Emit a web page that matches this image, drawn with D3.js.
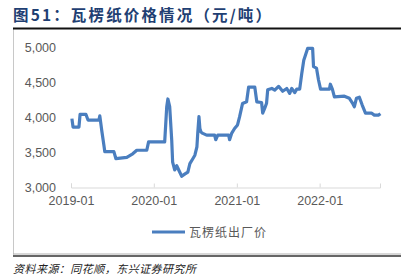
<!DOCTYPE html>
<html>
<head>
<meta charset="utf-8">
<script src="https://cdnjs.cloudflare.com/ajax/libs/d3/7.8.5/d3.min.js"></script>
<style>
  body { margin: 0; background: #fff; }
  svg { display: block; }
</style>
</head>
<body>
<div class="chart"></div>
<script>
// values (元/吨)
var dates = [
  '2019-01-05','2019-01-10','2019-02-05','2019-02-10','2019-03-08','2019-03-17','2019-05-04','2019-05-08',
  '2019-05-17','2019-05-26','2019-05-30','2019-07-09','2019-07-18','2019-09-04','2019-09-30','2019-10-18',
  '2019-12-01','2019-12-09','2020-02-18','2020-02-27','2020-03-03','2020-03-11','2020-03-20','2020-03-24',
  '2020-04-02','2020-04-11','2020-04-24','2020-05-03','2020-05-16','2020-05-30','2020-06-08','2020-06-21',
  '2020-06-30','2020-07-09','2020-07-13','2020-07-18','2020-07-22','2020-07-27','2020-08-04','2020-08-21',
  '2020-09-25','2020-09-30','2020-10-09','2020-11-26','2020-11-30','2020-12-09','2020-12-22','2021-01-04',
  '2021-01-13','2021-01-26','2021-02-13','2021-02-22','2021-03-21','2021-03-30','2021-04-20','2021-04-25',
  '2021-05-04','2021-05-12','2021-05-17','2021-06-04','2021-06-17','2021-07-04','2021-07-22','2021-08-09',
  '2021-08-22','2021-08-31','2021-09-13','2021-09-22','2021-10-05','2021-10-14','2021-10-23','2021-10-31',
  '2021-11-09','2021-12-01','2021-12-05','2021-12-18','2021-12-27','2022-01-05','2022-02-13','2022-02-17',
  '2022-02-26','2022-03-07','2022-04-20','2022-05-12','2022-05-25','2022-06-03','2022-06-12','2022-06-25',
  '2022-07-08','2022-07-22','2022-08-17','2022-08-30','2022-09-17','2022-09-26'
];
var prices = [
  3980,3860,3860,4040,4040,3960,3960,4020,
  3800,3600,3510,3510,3410,3430,3480,3530,
  3530,3650,3650,4150,4260,4150,3670,3360,
  3250,3310,3220,3160,3190,3220,3340,3410,
  3460,3580,3790,4010,3840,3790,3770,3745,
  3745,3680,3745,3745,3680,3770,3840,3890,
  4005,4195,4220,4430,4430,4220,4210,4060,
  4130,4200,4390,4410,4385,4440,4370,4410,
  4340,4410,4350,4400,4400,4620,4810,4890,
  4980,4980,4720,4700,4530,4400,4400,4470,
  4400,4290,4300,4270,4205,4150,4270,4285,
  4170,4060,4060,4030,4030,4050
];
var yTicks = [3000, 3500, 4000, 4500, 5000];
var xTicks = ['2019-01-01', '2020-01-01', '2021-01-01', '2022-01-01'];
var seriesName = '瓦楞纸出厂价';
var title = '图51：瓦楞纸价格情况（元/吨）';
var source = '资料来源：同花顺，东兴证券研究所';

var W = 411, H = 279;
var parse = d3.timeParse('%Y-%m-%d');
var data = dates.map((d, i) => ({ date: parse(d), value: prices[i] }));

var svg = d3.select('.chart')
  .append('svg')
  .attr('width', W)
  .attr('height', H);

// title + rule
svg.append('text')
  .attr('x', 13).attr('y', 20.5)
  .attr('textLength', 258).attr('lengthAdjust', 'spacing')
  .style('font-family', '"Noto Sans CJK SC", sans-serif')
  .style('font-weight', 'bold')
  .style('font-size', '15.5px')
  .style('fill', '#1f3f73')
  .text(title);

// chart frame (left + bottom, light gray)
svg.append('line').attr('x1', 13.5).attr('x2', 13.5).attr('y1', 29).attr('y2', 254.5)
  .style('stroke', '#c8c8c8').style('stroke-width', 1);
svg.append('line').attr('x1', 13).attr('x2', 401).attr('y1', 254).attr('y2', 254)
  .style('stroke', '#b0b0b0').style('stroke-width', 1);
svg.append('line').attr('x1', 13).attr('x2', 401).attr('y1', 256).attr('y2', 256)
  .style('stroke', '#333').style('stroke-width', 1.6);
svg.append('line').attr('x1', 13).attr('x2', 401).attr('y1', 28.5).attr('y2', 28.5)
  .style('stroke', '#111').style('stroke-width', 1.8);

var xScale = d3.scaleTime()
  .domain([parse('2019-01-01'), parse('2022-09-24')])
  .range([71, 380]);

var yScale = d3.scaleLinear()
  .domain([3000, 5000])
  .range([187.5, 47]);

// x axis
var xAxis = svg.append('g')
  .attr('transform', 'translate(0,187.5)')
  .call(d3.axisBottom(xScale)
    .tickValues(xTicks.map(parse))
    .tickFormat(d3.timeFormat('%Y-%m'))
    .tickSize(-4)
    .tickPadding(9));
xAxis.select('.domain').style('stroke', '#d9d9d9');
xAxis.selectAll('.tick line').style('stroke', '#d9d9d9');
xAxis.selectAll('text')
  .style('font-family', '"Liberation Sans", Arial, sans-serif')
  .style('font-size', '12.5px')
  .style('fill', '#595959');

// y axis (labels only)
var yAxis = svg.append('g')
  .attr('transform', 'translate(56,0)')
  .call(d3.axisLeft(yScale).tickValues(yTicks).tickFormat(d3.format(',')).tickSize(0).tickPadding(0));
yAxis.select('.domain').remove();
yAxis.selectAll('text')
  .style('font-family', '"Liberation Sans", Arial, sans-serif')
  .style('font-size', '12.5px')
  .style('fill', '#595959');

var line = d3.line()
  .x(d => xScale(d.date))
  .y(d => yScale(d.value));

svg.append('path')
  .datum(data)
  .attr('class', 'line')
  .attr('d', line)
  .style('stroke', '#4a7ebf')
  .style('stroke-width', 3.2)
  .style('fill', 'none')
  .style('stroke-linejoin', 'round');

// legend
svg.append('line').attr('x1', 152).attr('x2', 185).attr('y1', 232).attr('y2', 232)
  .style('stroke', '#4a7ebf').style('stroke-width', 3.2);
svg.append('text')
  .attr('x', 189).attr('y', 236.5)
  .attr('textLength', 77).attr('lengthAdjust', 'spacing')
  .style('font-family', '"Noto Sans CJK SC", sans-serif')
  .style('font-size', '12px')
  .style('fill', '#595959')
  .text(seriesName);

// source
svg.append('text')
  .attr('x', 13).attr('y', 273)
  .attr('textLength', 183).attr('lengthAdjust', 'spacing')
  .style('font-family', '"Noto Sans CJK SC", sans-serif')
  .style('font-style', 'italic')
  .style('font-size', '11px')
  .style('fill', '#222')
  .text(source);
</script>
</body>
</html>
